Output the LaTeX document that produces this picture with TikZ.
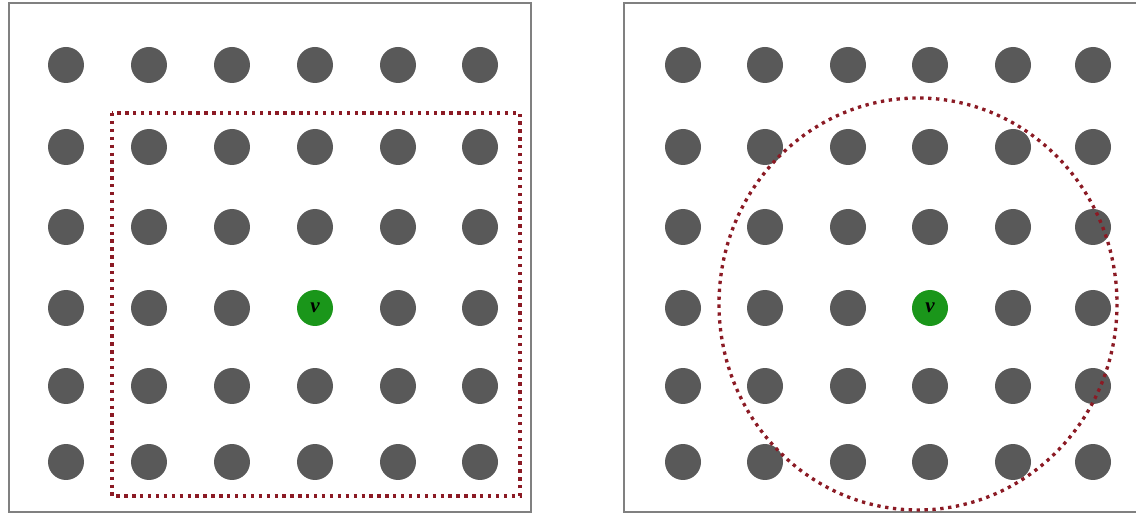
\documentclass[tikz,border=0pt]{standalone}
\usepackage{fontspec}
\setmainfont{Liberation Serif}
\usepackage{tikz}
\usetikzlibrary{positioning}

\definecolor{dotgray}{HTML}{595959}
\definecolor{vgreen}{HTML}{1A961A}
\definecolor{hoodred}{HTML}{8B1A24}
\definecolor{framegray}{HTML}{808080}

\tikzset{
  vertex/.style={circle, fill=dotgray, minimum size=0.72cm, inner sep=0pt},
  center/.style={circle, fill=vgreen, minimum size=0.72cm, inner sep=0pt, font=\bfseries\itshape\large},
  panel/.style={draw=framegray, line width=1.2pt},
  hood/.style={draw=hoodred, line width=1.9pt, dash pattern=on 1.9pt off 2.6pt}
}

\begin{document}
\begin{tikzpicture}[x=0.02cm, y=-0.02cm]
\useasboundingbox (0,0) rectangle (1136,516);

% Rahmen
\draw[panel] (9,3) rectangle (531,512);
\draw[panel] (1136,3) -- (624,3) -- (624,512) -- (1136,512);

% Knoten links
\foreach \x [count=\i] in {66,149,232,315,398,480} {
  \foreach \y [count=\j] in {65,147,227,308,386,462} {
    \ifnum\i=4 \ifnum\j=4 \else
      \node[vertex] (l-\i-\j) at (\x,\y) {};
    \fi \else
      \node[vertex] (l-\i-\j) at (\x,\y) {};
    \fi
  }
}
\node[center] (lv) at (315,308) {v};

% Knoten rechts
\foreach \x [count=\i] in {683,765,848,930,1013,1093} {
  \foreach \y [count=\j] in {65,147,227,308,386,462} {
    \ifnum\i=4 \ifnum\j=4 \else
      \node[vertex] (r-\i-\j) at (\x,\y) {};
    \fi \else
      \node[vertex] (r-\i-\j) at (\x,\y) {};
    \fi
  }
}
\node[center] (rv) at (930,308) {v};

% Nachbarschaften
\draw[hood] (112,113) rectangle (520,496);
\draw[hood] (918,304) ellipse [x radius=199, y radius=206];

\end{tikzpicture}
\end{document}
